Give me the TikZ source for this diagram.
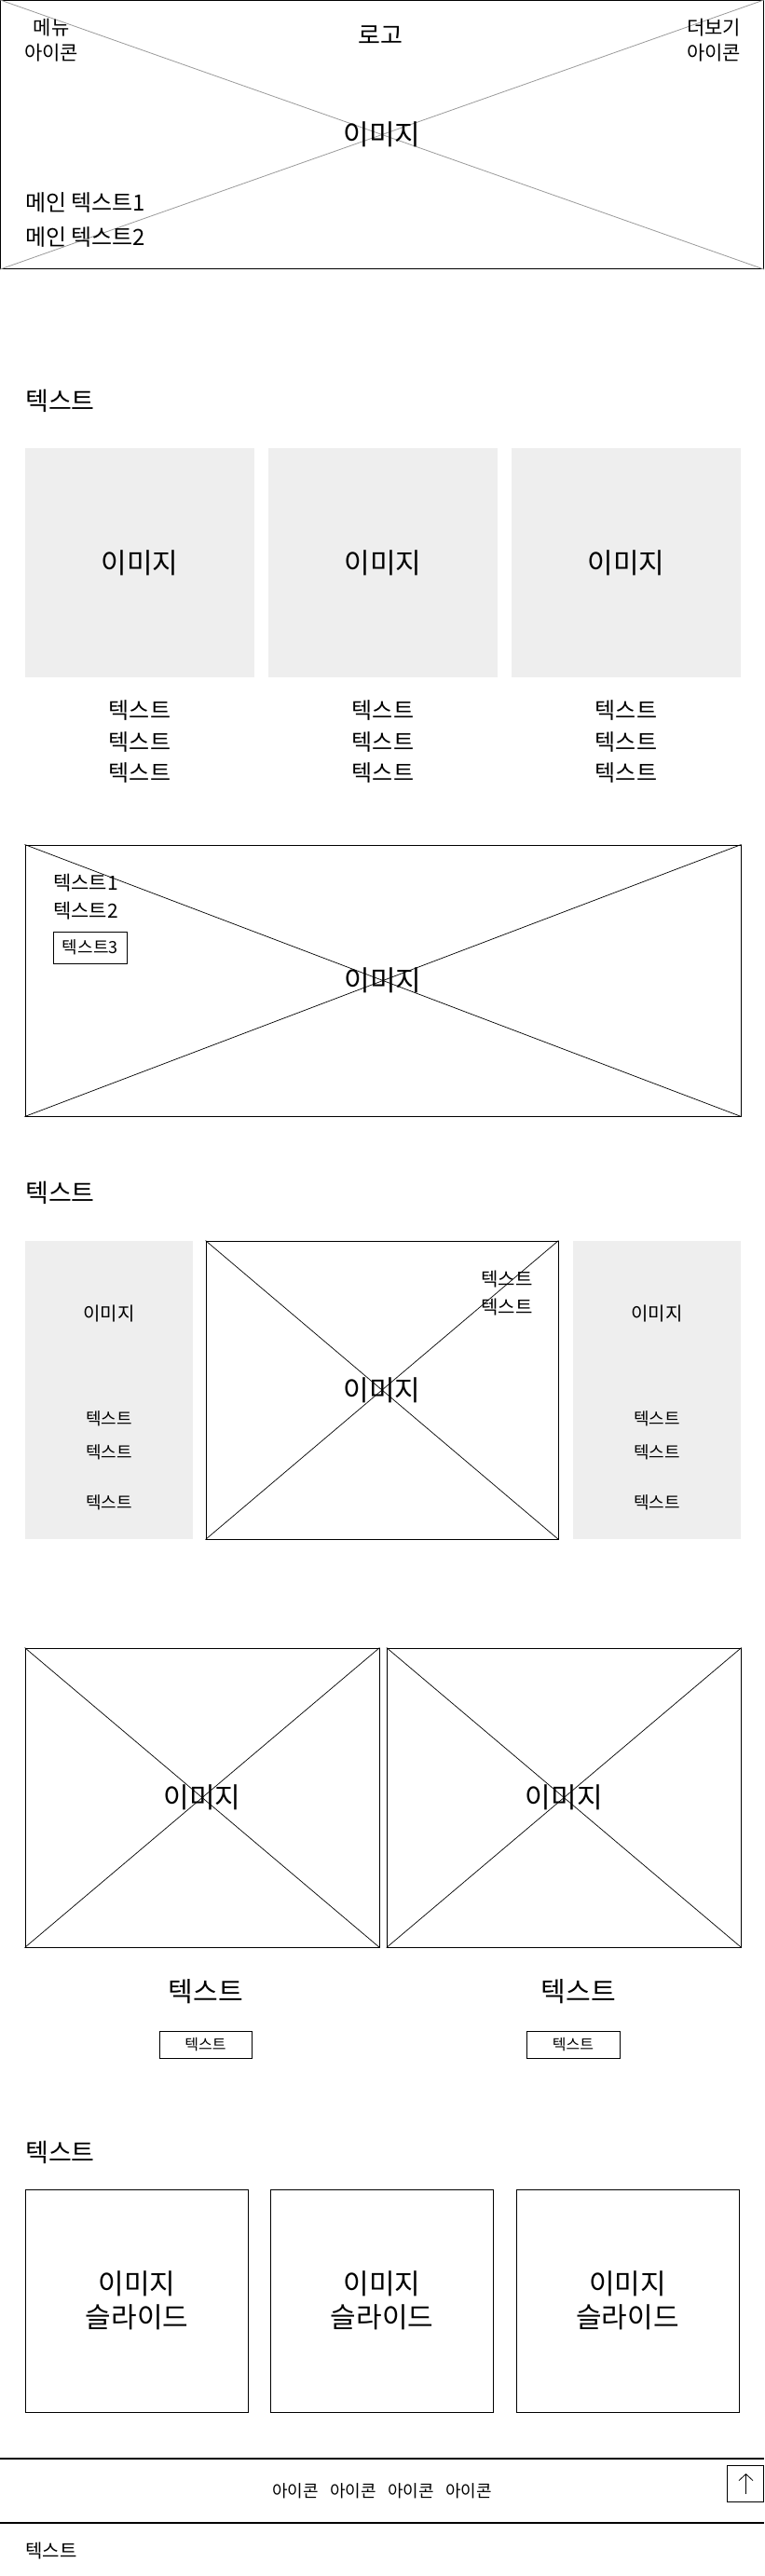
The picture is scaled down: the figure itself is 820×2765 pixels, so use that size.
\documentclass[tikz,border=0pt]{standalone}
\usepackage{fontspec}
\setmainfont{Noto Sans CJK KR}
\usetikzlibrary{arrows.meta}
\definecolor{boxgray}{HTML}{EEEEEE}
\definecolor{crossgray}{HTML}{9A9A9A}
\newcommand{\fsz}[2]{\fontsize{#1}{#2}\selectfont}

\begin{document}
\begin{tikzpicture}[x=1pt,y=-1pt,
    imgbox/.style={draw=black,line width=1pt,inner sep=0pt},
    graybox/.style={fill=boxgray,inner sep=0pt},
    cross/.style={draw=black,line width=0.7pt},
    lbl/.style={inner sep=0pt,align=center}]
  \useasboundingbox (0,0) rectangle (820,2765);

  % header
  \node[imgbox,line width=1.3pt,minimum width=819pt,minimum height=288pt] (hero) at (410,144.5) {};
  \draw[crossgray,line width=0.8pt] (hero.north west) -- (hero.south east);
  \draw[crossgray,line width=0.8pt] (hero.south west) -- (hero.north east);
  \node[lbl,font=\fsz{21}{27}] (menu) at (55,43.5) {메뉴\\아이콘};
  \node[lbl,font=\fsz{26}{26}] (logo) at (408,38) {로고};
  \node[lbl,font=\fsz{21}{27}] (more) at (766,43.5) {더보기\\아이콘};
  \node[lbl,font=\fsz{30}{30}] (heroimg) at (hero) {이미지};
  \node[lbl,anchor=west,font=\fsz{24}{24}] (main1) at (27,218) {메인 텍스트1};
  \node[lbl,anchor=west,font=\fsz{24}{24}] (main2) at (27,255) {메인 텍스트2};

  % cards
  \node[lbl,anchor=west,font=\fsz{27}{27}] (head1) at (27,430) {텍스트};
  \foreach \x/\n in {150/a,411/b,672/c} {
    \node[graybox,minimum width=246pt,minimum height=246pt] (card\n) at (\x,604) {};
    \node[lbl,font=\fsz{30}{30}] (cardimg\n) at (card\n) {이미지};
    \node[lbl,font=\fsz{24}{24}] (cardt\n1) at (\x,763) {텍스트};
    \node[lbl,font=\fsz{24}{24}] (cardt\n2) at (\x,797) {텍스트};
    \node[lbl,font=\fsz{24}{24}] (cardt\n3) at (\x,830) {텍스트};
  }

  % banner
  \node[imgbox,minimum width=768pt,minimum height=291pt] (banner) at (411,1052.5) {};
  \draw[cross] (banner.north west) -- (banner.south east);
  \draw[cross] (banner.south west) -- (banner.north east);
  \node[lbl,font=\fsz{30}{30}] (bannerimg) at (banner) {이미지};
  \node[lbl,anchor=west,font=\fsz{21}{21}] (bt1) at (57,948) {텍스트1};
  \node[lbl,anchor=west,font=\fsz{21}{21}] (bt2) at (57,978) {텍스트2};
  \node[draw=black,line width=1pt,inner sep=0pt,minimum width=79pt,minimum height=34pt,font=\fsz{18}{18}] (bt3) at (96.75,1017) {텍스트3};

  % three columns
  \node[lbl,anchor=west,font=\fsz{27}{27}] (head2) at (27,1280) {텍스트};
  \node[graybox,minimum width=180pt,minimum height=320pt] (sidel) at (117,1492) {};
  \node[graybox,minimum width=180pt,minimum height=320pt] (sider) at (705,1492) {};
  \node[imgbox,minimum width=378pt,minimum height=320pt] (mid) at (410,1492) {};
  \draw[cross] (mid.north west) -- (mid.south east);
  \draw[cross] (mid.south west) -- (mid.north east);
  \node[lbl,font=\fsz{30}{30}] (midimg) at (mid) {이미지};
  \node[lbl,font=\fsz{20}{20}] (midt1) at (544,1373) {텍스트};
  \node[lbl,font=\fsz{20}{20}] (midt2) at (544,1403) {텍스트};
  \foreach \x/\n in {117/l,705/r} {
    \node[lbl,font=\fsz{20}{20}] (sideimg\n) at (\x,1410) {이미지};
    \node[lbl,font=\fsz{18}{18}] (sidet\n1) at (\x,1523) {텍스트};
    \node[lbl,font=\fsz{18}{18}] (sidet\n2) at (\x,1559) {텍스트};
    \node[lbl,font=\fsz{18}{18}] (sidet\n3) at (\x,1613) {텍스트};
  }

  % two images
  \foreach \x/\tx/\bx/\bw/\n in {217/221/220.5/99/a,605.25/621/615/100/b} {
    \node[imgbox,minimum width=380pt,minimum height=321pt] (pic\n) at (\x,1929.5) {};
    \draw[cross] (pic\n.north west) -- (pic\n.south east);
    \draw[cross] (pic\n.south west) -- (pic\n.north east);
    \node[lbl,font=\fsz{30}{30}] (picimg\n) at (pic\n) {이미지};
    \node[lbl,font=\fsz{29}{29}] (pict\n) at (\tx,2138) {텍스트};
    \node[draw=black,line width=1pt,inner sep=0pt,minimum width=\bw pt,minimum height=29pt,font=\fsz{16}{16}] (picbtn\n) at (\bx,2194.5) {텍스트};
  }

  % slides
  \node[lbl,anchor=west,font=\fsz{27}{27}] (head3) at (27,2310) {텍스트};
  \foreach \x/\n in {147/a,410/b,673.5/c} {
    \node[imgbox,minimum width=239pt,minimum height=239pt] (slide\n) at (\x,2469.5) {};
    \node[lbl,font=\fsz{30}{36}] (slidet\n) at (slide\n) {이미지\\슬라이드};
  }

  % footer
  \coordinate (fl1) at (0,2639);
  \coordinate (fr1) at (820,2639);
  \coordinate (fl2) at (0,2708);
  \coordinate (fr2) at (820,2708);
  \draw[line width=1.2pt] (fl1) -- (fr1);
  \draw[line width=1.2pt] (fl2) -- (fr2);
  \foreach \x/\n in {317/1,379/2,441/3,503/4}
    \node[lbl,font=\fsz{18}{18}] (icon\n) at (\x,2674) {아이콘};
  \node[imgbox,minimum width=39pt,minimum height=39pt] (topbtn) at (800,2665.5) {};
  \coordinate (arrlo) at (800.5,2677);
  \coordinate (arrhi) at (800.5,2655);
  \draw[line width=0.8pt,-{Straight Barb[length=7pt,width=15pt]}] (arrlo) -- (arrhi);
  \node[lbl,anchor=west,font=\fsz{20}{20}] (foot) at (27,2738) {텍스트};
\end{tikzpicture}
\end{document}
